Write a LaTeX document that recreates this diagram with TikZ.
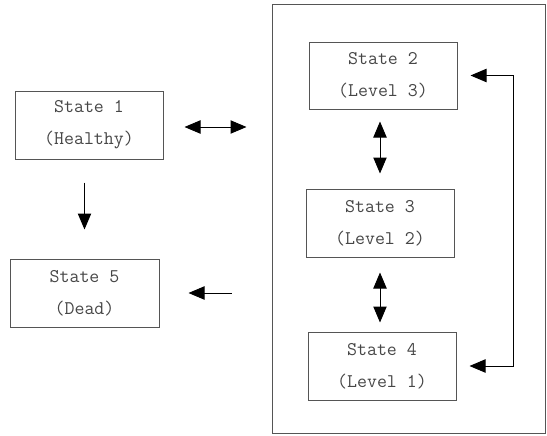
\documentclass[tikz,border=0pt]{standalone}
\usepackage{fontspec}
\usetikzlibrary{arrows.meta}

\tikzset{every picture/.style={line width=0.75pt}}
\tikzset{
  statebox/.style={draw={rgb, 255:red, 85; green, 85; blue, 85}, minimum width=111pt, minimum height=51pt, inner sep=0pt, align=center, text={rgb, 255:red, 70; green, 70; blue, 70}, font=\ttfamily\fontsize{14.5}{24}\selectfont},
  tip/.style={-{Triangle[length=12pt,width=10pt]}},
  dbltip/.style={{Triangle[length=12pt,width=10pt]}-{Triangle[length=12pt,width=10pt]}}
}

\begin{document}
\begin{tikzpicture}[x=0.75pt,y=0.75pt,yscale=-1,xscale=1]
\useasboundingbox (0,0) rectangle (547,436);

%Frame round the three levels
\node [draw={rgb, 255:red, 85; green, 85; blue, 85}, minimum width=204.75pt, minimum height=321.75pt, inner sep=0pt] (group) at (408.5,218.5) {};

%States
\node [statebox] (s1) at (89,125) {State 1\\(Healthy)};
\node [statebox, minimum width=111.75pt] (s5) at (84.5,293) {State 5\\(Dead)};
\node [statebox, minimum height=50.25pt] (s2) at (383,75.5) {State 2\\(Level 3)};
\node [statebox] (s3) at (380,223) {State 3\\(Level 2)};
\node [statebox] (s4) at (382,366) {State 4\\(Level 1)};

\coordinate (loop) at (513,0);

%Straight Lines
\draw [dbltip, shorten <=15.75pt, shorten >=18.75pt] (s1.east |- 0,127) -- (group.west |- 0,127);
\draw [tip, shorten <=17.25pt, shorten >=21.75pt] (s5.north |- s1.south) -- (s5.north);
\draw [tip, shorten <=30pt, shorten >=21.75pt] (group.west |- s5.east) -- (s5.east);
\draw [dbltip, shorten <=9pt, shorten >=11.25pt] (s3.north |- s2.south) -- (s3.north);
\draw [dbltip, shorten <=11.25pt, shorten >=6.75pt] (s3.south) -- (s3.south |- s4.north);
\draw [dbltip, shorten <=9.75pt, shorten >=9.75pt] (s2.east) -- (s2.east -| loop) -- (s4.east -| loop) -- (s4.east);

\end{tikzpicture}
\end{document}
